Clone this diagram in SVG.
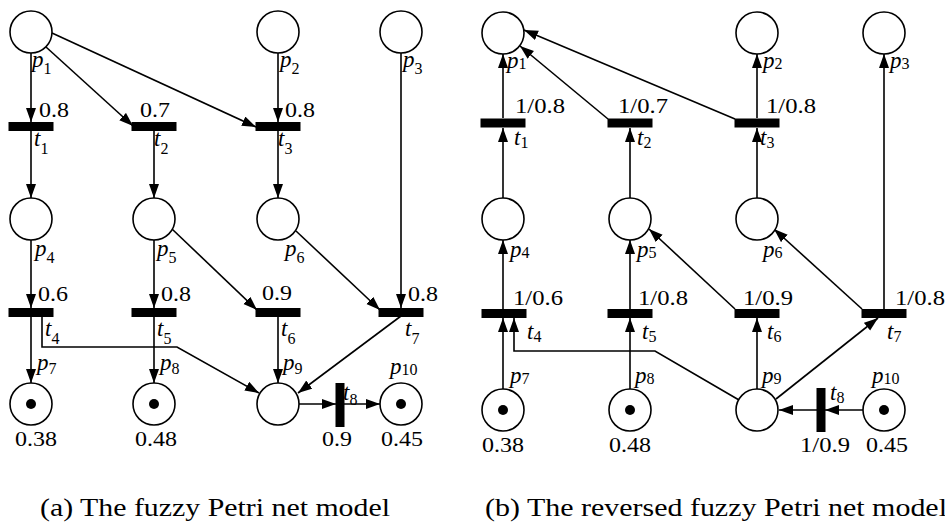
<svg xmlns="http://www.w3.org/2000/svg" width="945" height="522" viewBox="0 0 945 522" font-family="'Liberation Serif', serif">
<style>
.pl{fill:#fff;stroke:#000;stroke-width:1.6}
.tk{fill:#000}
.tr{fill:#000}
.ar{fill:none;stroke:#000;stroke-width:1.6;marker-end:url(#ah)}
text{font-family:'Liberation Serif',serif;fill:#000}
.n{font-size:21px}
.lb{font-size:23px;font-style:italic}
.sb{font-size:16px;font-style:normal}
.cap{font-size:26px}
</style>
<defs>
<marker id="ah" markerUnits="userSpaceOnUse" markerWidth="15" markerHeight="11" refX="14" refY="5" orient="auto"><path d="M0,0 L14,5 L0,10 z" fill="#000"/></marker>
</defs>
<rect width="945" height="522" fill="#fff"/>

<g id="connectors">
<line class="ar" x1="31" y1="53" x2="31" y2="122"/>
<line class="ar" x1="46" y1="47" x2="133" y2="126"/>
<line class="ar" x1="52" y1="33" x2="256" y2="127"/>
<line class="ar" x1="278" y1="53" x2="278" y2="122"/>
<line class="ar" x1="31" y1="131" x2="31" y2="198"/>
<line class="ar" x1="154" y1="131" x2="154" y2="198"/>
<line class="ar" x1="278" y1="131" x2="278" y2="198"/>
<line class="ar" x1="401" y1="53" x2="401" y2="308"/>
<line class="ar" x1="31" y1="240" x2="31" y2="308"/>
<line class="ar" x1="154" y1="240" x2="154" y2="308"/>
<line class="ar" x1="172" y1="229" x2="257" y2="310"/>
<line class="ar" x1="296" y1="231" x2="380" y2="310"/>
<line class="ar" x1="31" y1="317" x2="31" y2="383"/>
<polyline class="ar" points="42,317 42,347 177,347 259,393"/>
<line class="ar" x1="154" y1="317" x2="154" y2="383"/>
<line class="ar" x1="278" y1="317" x2="278" y2="383"/>
<line class="ar" x1="401" y1="316" x2="298" y2="393"/>
<line class="ar" x1="299" y1="404" x2="336" y2="404"/>
<line class="ar" x1="344" y1="404" x2="380" y2="404"/>
<line class="ar" x1="503" y1="118" x2="503" y2="54"/>
<line class="ar" x1="608" y1="119" x2="520" y2="46"/>
<line class="ar" x1="735" y1="119" x2="524" y2="30"/>
<line class="ar" x1="757" y1="118" x2="757" y2="54"/>
<line class="ar" x1="884" y1="309" x2="884" y2="54"/>
<line class="ar" x1="503" y1="198" x2="503" y2="128"/>
<line class="ar" x1="630" y1="198" x2="630" y2="128"/>
<line class="ar" x1="757" y1="198" x2="757" y2="128"/>
<line class="ar" x1="503" y1="309" x2="503" y2="240"/>
<line class="ar" x1="630" y1="309" x2="630" y2="240"/>
<line class="ar" x1="735" y1="309" x2="649" y2="229"/>
<line class="ar" x1="862" y1="309" x2="774" y2="229"/>
<line class="ar" x1="503" y1="389" x2="503" y2="318"/>
<polyline class="ar" points="739,400 655,351 514,351 514,318"/>
<line class="ar" x1="630" y1="389" x2="630" y2="318"/>
<line class="ar" x1="757" y1="389" x2="757" y2="318"/>
<line class="ar" x1="776" y1="399" x2="878" y2="318"/>
<line class="ar" x1="817" y1="410" x2="779" y2="410"/>
<line class="ar" x1="863" y1="410" x2="825" y2="410"/>
</g>

<g id="a_p1"><circle class="pl" cx="31" cy="32" r="21"/><text class="lb" x="32" y="67">p<tspan class="sb" dy="7">1</tspan></text></g>
<g id="a_p2"><circle class="pl" cx="278" cy="32" r="21"/><text class="lb" x="280" y="67">p<tspan class="sb" dy="7">2</tspan></text></g>
<g id="a_p3"><circle class="pl" cx="401" cy="32" r="21"/><text class="lb" x="403" y="67">p<tspan class="sb" dy="7">3</tspan></text></g>
<g id="a_p4"><circle class="pl" cx="31" cy="219" r="21"/><text class="lb" x="35" y="256">p<tspan class="sb" dy="7">4</tspan></text></g>
<g id="a_p5"><circle class="pl" cx="154" cy="219" r="21"/><text class="lb" x="157" y="256">p<tspan class="sb" dy="7">5</tspan></text></g>
<g id="a_p6"><circle class="pl" cx="278" cy="219" r="21"/><text class="lb" x="285" y="256">p<tspan class="sb" dy="7">6</tspan></text></g>
<g id="a_p7"><circle class="pl" cx="31" cy="404" r="21"/><circle class="tk" cx="31" cy="404" r="5"/><text class="lb" x="37" y="370">p<tspan class="sb" dy="4">7</tspan></text><text class="n" x="36" y="446" text-anchor="middle" textLength="42" lengthAdjust="spacingAndGlyphs">0.38</text></g>
<g id="a_p8"><circle class="pl" cx="154" cy="404" r="21"/><circle class="tk" cx="154" cy="404" r="5"/><text class="lb" x="160" y="370">p<tspan class="sb" dy="4">8</tspan></text><text class="n" x="156" y="446" text-anchor="middle" textLength="42" lengthAdjust="spacingAndGlyphs">0.48</text></g>
<g id="a_p9"><circle class="pl" cx="278" cy="404" r="21"/><text class="lb" x="283" y="370">p<tspan class="sb" dy="4">9</tspan></text></g>
<g id="a_p10"><circle class="pl" cx="401" cy="404" r="21"/><circle class="tk" cx="401" cy="404" r="5"/><text class="lb" x="390" y="374">p<tspan class="sb" dy="1">10</tspan></text><text class="n" x="402" y="446" text-anchor="middle" textLength="42" lengthAdjust="spacingAndGlyphs">0.45</text></g>

<g id="a_t1"><rect class="tr" x="8.5" y="122" width="45" height="9"/><text class="n" x="39" y="117" textLength="30" lengthAdjust="spacingAndGlyphs">0.8</text><text class="lb" x="34" y="146">t<tspan class="sb" dy="8">1</tspan></text></g>
<g id="a_t2"><rect class="tr" x="131.5" y="122" width="45" height="9"/><text class="n" x="140" y="117" textLength="30" lengthAdjust="spacingAndGlyphs">0.7</text><text class="lb" x="154" y="146">t<tspan class="sb" dy="8">2</tspan></text></g>
<g id="a_t3"><rect class="tr" x="255.5" y="122" width="45" height="9"/><text class="n" x="285" y="117" textLength="30" lengthAdjust="spacingAndGlyphs">0.8</text><text class="lb" x="278" y="146">t<tspan class="sb" dy="8">3</tspan></text></g>
<g id="a_t4"><rect class="tr" x="8.5" y="308" width="45" height="9"/><text class="n" x="38" y="301" textLength="30" lengthAdjust="spacingAndGlyphs">0.6</text><text class="lb" x="45" y="336">t<tspan class="sb" dy="8">4</tspan></text></g>
<g id="a_t5"><rect class="tr" x="131.5" y="308" width="45" height="9"/><text class="n" x="161" y="301" textLength="30" lengthAdjust="spacingAndGlyphs">0.8</text><text class="lb" x="157" y="336">t<tspan class="sb" dy="8">5</tspan></text></g>
<g id="a_t6"><rect class="tr" x="255.5" y="308" width="45" height="9"/><text class="n" x="262" y="300" textLength="30" lengthAdjust="spacingAndGlyphs">0.9</text><text class="lb" x="281" y="336">t<tspan class="sb" dy="8">6</tspan></text></g>
<g id="a_t7"><rect class="tr" x="378.5" y="308" width="45" height="9"/><text class="n" x="408" y="301" textLength="30" lengthAdjust="spacingAndGlyphs">0.8</text><text class="lb" x="405" y="336">t<tspan class="sb" dy="8">7</tspan></text></g>
<g id="a_t8"><rect class="tr" x="335.5" y="383" width="9" height="44"/><text class="lb" x="343" y="400">t<tspan class="sb" dy="5">8</tspan></text><text class="n" x="337" y="446" text-anchor="middle" textLength="30" lengthAdjust="spacingAndGlyphs">0.9</text></g>

<g id="b_p1"><circle class="pl" cx="503" cy="33" r="21"/><text class="lb" x="507" y="68">p<tspan class="sb" dy="1">1</tspan></text></g>
<g id="b_p2"><circle class="pl" cx="757" cy="33" r="21"/><text class="lb" x="763" y="68">p<tspan class="sb" dy="1">2</tspan></text></g>
<g id="b_p3"><circle class="pl" cx="884" cy="33" r="21"/><text class="lb" x="890" y="68">p<tspan class="sb" dy="1">3</tspan></text></g>
<g id="b_p4"><circle class="pl" cx="503" cy="219" r="21"/><text class="lb" x="510" y="257">p<tspan class="sb" dy="1">4</tspan></text></g>
<g id="b_p5"><circle class="pl" cx="630" cy="219" r="21"/><text class="lb" x="637" y="257">p<tspan class="sb" dy="1">5</tspan></text></g>
<g id="b_p6"><circle class="pl" cx="757" cy="219" r="21"/><text class="lb" x="763" y="257">p<tspan class="sb" dy="1">6</tspan></text></g>
<g id="b_p7"><circle class="pl" cx="503" cy="410" r="21"/><circle class="tk" cx="503" cy="410" r="5"/><text class="lb" x="510" y="383">p<tspan class="sb" dy="1">7</tspan></text><text class="n" x="503" y="452" text-anchor="middle" textLength="42" lengthAdjust="spacingAndGlyphs">0.38</text></g>
<g id="b_p8"><circle class="pl" cx="630" cy="410" r="21"/><circle class="tk" cx="630" cy="410" r="5"/><text class="lb" x="635" y="383">p<tspan class="sb" dy="1">8</tspan></text><text class="n" x="630" y="452" text-anchor="middle" textLength="42" lengthAdjust="spacingAndGlyphs">0.48</text></g>
<g id="b_p9"><circle class="pl" cx="757" cy="410" r="21"/><text class="lb" x="762" y="383">p<tspan class="sb" dy="1">9</tspan></text></g>
<g id="b_p10"><circle class="pl" cx="884" cy="410" r="21"/><circle class="tk" cx="884" cy="410" r="5"/><text class="lb" x="872" y="383">p<tspan class="sb" dy="1">10</tspan></text><text class="n" x="887" y="452" text-anchor="middle" textLength="42" lengthAdjust="spacingAndGlyphs">0.45</text></g>

<g id="b_t1"><rect class="tr" x="480.5" y="118.5" width="45" height="9"/><text class="n" x="515" y="113" textLength="50" lengthAdjust="spacingAndGlyphs">1/0.8</text><text class="lb" x="514" y="145">t<tspan class="sb" dy="3">1</tspan></text></g>
<g id="b_t2"><rect class="tr" x="607.5" y="118.5" width="45" height="9"/><text class="n" x="618" y="113" textLength="50" lengthAdjust="spacingAndGlyphs">1/0.7</text><text class="lb" x="637" y="145">t<tspan class="sb" dy="3">2</tspan></text></g>
<g id="b_t3"><rect class="tr" x="734.5" y="118.5" width="45" height="9"/><text class="n" x="766" y="113" textLength="50" lengthAdjust="spacingAndGlyphs">1/0.8</text><text class="lb" x="760" y="145">t<tspan class="sb" dy="3">3</tspan></text></g>
<g id="b_t4"><rect class="tr" x="481.5" y="309" width="45" height="9"/><text class="n" x="513" y="305" textLength="50" lengthAdjust="spacingAndGlyphs">1/0.6</text><text class="lb" x="527" y="339">t<tspan class="sb" dy="3">4</tspan></text></g>
<g id="b_t5"><rect class="tr" x="607.5" y="309" width="45" height="9"/><text class="n" x="638" y="305" textLength="50" lengthAdjust="spacingAndGlyphs">1/0.8</text><text class="lb" x="642" y="339">t<tspan class="sb" dy="3">5</tspan></text></g>
<g id="b_t6"><rect class="tr" x="734.5" y="309" width="45" height="9"/><text class="n" x="743" y="305" textLength="50" lengthAdjust="spacingAndGlyphs">1/0.9</text><text class="lb" x="767" y="339">t<tspan class="sb" dy="3">6</tspan></text></g>
<g id="b_t7"><rect class="tr" x="861.5" y="309" width="45" height="9"/><text class="n" x="895" y="305" textLength="50" lengthAdjust="spacingAndGlyphs">1/0.8</text><text class="lb" x="887" y="339">t<tspan class="sb" dy="3">7</tspan></text></g>
<g id="b_t8"><rect class="tr" x="816.5" y="388" width="9" height="44"/><text class="lb" x="830" y="400">t<tspan class="sb" dy="3">8</tspan></text><text class="n" x="825" y="452" text-anchor="middle" textLength="50" lengthAdjust="spacingAndGlyphs">1/0.9</text></g>

<g id="captions">
<text class="cap" x="40" y="516" textLength="350" lengthAdjust="spacingAndGlyphs">(a) The fuzzy Petri net model</text>
<text class="cap" x="485" y="516" textLength="462" lengthAdjust="spacingAndGlyphs">(b) The reversed fuzzy Petri net model</text>
</g>
</svg>
